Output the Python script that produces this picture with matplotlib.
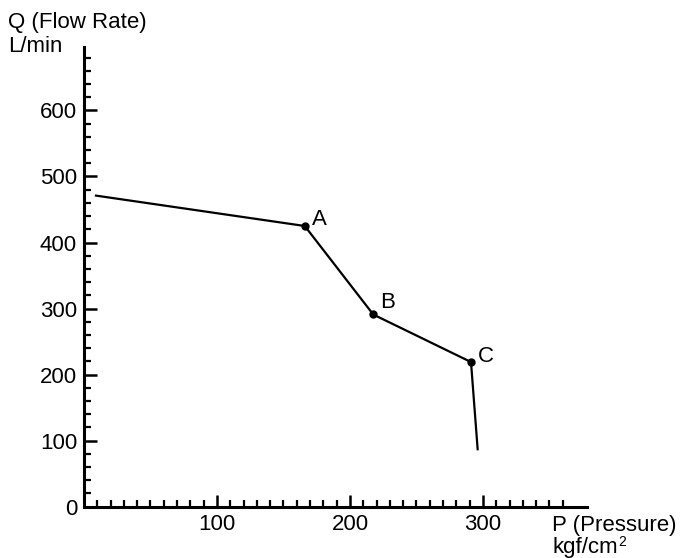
import matplotlib
matplotlib.use("Agg")
import matplotlib.pyplot as plt
from matplotlib.ticker import FixedLocator

plt.rcParams['font.family'] = ['Liberation Sans', 'DejaVu Sans']

# Data
pressure = [9, 166, 217.5, 291, 296]
flow = [471, 425, 291, 219, 87]
point_names = ["", "A", "B", "C", ""]
x_ticks = [100, 200, 300]
y_ticks = [0, 100, 200, 300, 400, 500, 600]

FS = 16

fig = plt.figure(figsize=(6.83, 5.58), dpi=100)
ax = fig.add_axes([84/683, 1-506.7/558, (586.7-84)/683, (506.7-47)/558])

ax.plot(pressure, flow, color='black', lw=1.6, solid_joinstyle='miter')
ax.plot(pressure[1:4], flow[1:4], 'o', color='black', ms=5)
offsets = {"A": (5, 0.5), "B": (5, 4.7), "C": (5, 0)}
for px, fy, name in zip(pressure, flow, point_names):
    if name:
        ax.annotate(name, (px, fy), xytext=offsets[name], textcoords='offset points',
                    fontsize=FS, ha='left', va='baseline')

ax.set_xlim(0, 378)
ax.set_ylim(0, 696)
for s in ['top', 'right']:
    ax.spines[s].set_visible(False)
for s in ['left', 'bottom']:
    ax.spines[s].set_linewidth(2.2)

ax.xaxis.set_major_locator(FixedLocator(x_ticks))
ax.xaxis.set_minor_locator(FixedLocator([v for v in range(10, 361, 10) if v not in x_ticks]))
ax.yaxis.set_major_locator(FixedLocator(y_ticks))
ax.yaxis.set_minor_locator(FixedLocator([v for v in range(20, 681, 20) if v % 100 != 0]))
ax.tick_params(which='major', direction='in', length=9, width=1.8, labelsize=FS, pad=5)
ax.tick_params(which='minor', direction='in', length=5, width=1.6)

fig.text(8/683, 1-28/558, "Q (Flow Rate)", fontsize=FS, ha='left', va='baseline')
fig.text(8/683, 1-52/558, "L/min", fontsize=FS, ha='left', va='baseline')
fig.text(552/683, 1-531/558, "P (Pressure)", fontsize=FS, ha='left', va='baseline')
unit = fig.text(552/683, 1-552.5/558, "kgf/cm", fontsize=FS, ha='left', va='baseline')
ax.annotate("2", xy=(1, 0), xycoords=unit, xytext=(0.5, 8.3), textcoords='offset points',
            fontsize=10, ha='left', va='baseline', annotation_clip=False)

fig.savefig("out.png", dpi=100)
